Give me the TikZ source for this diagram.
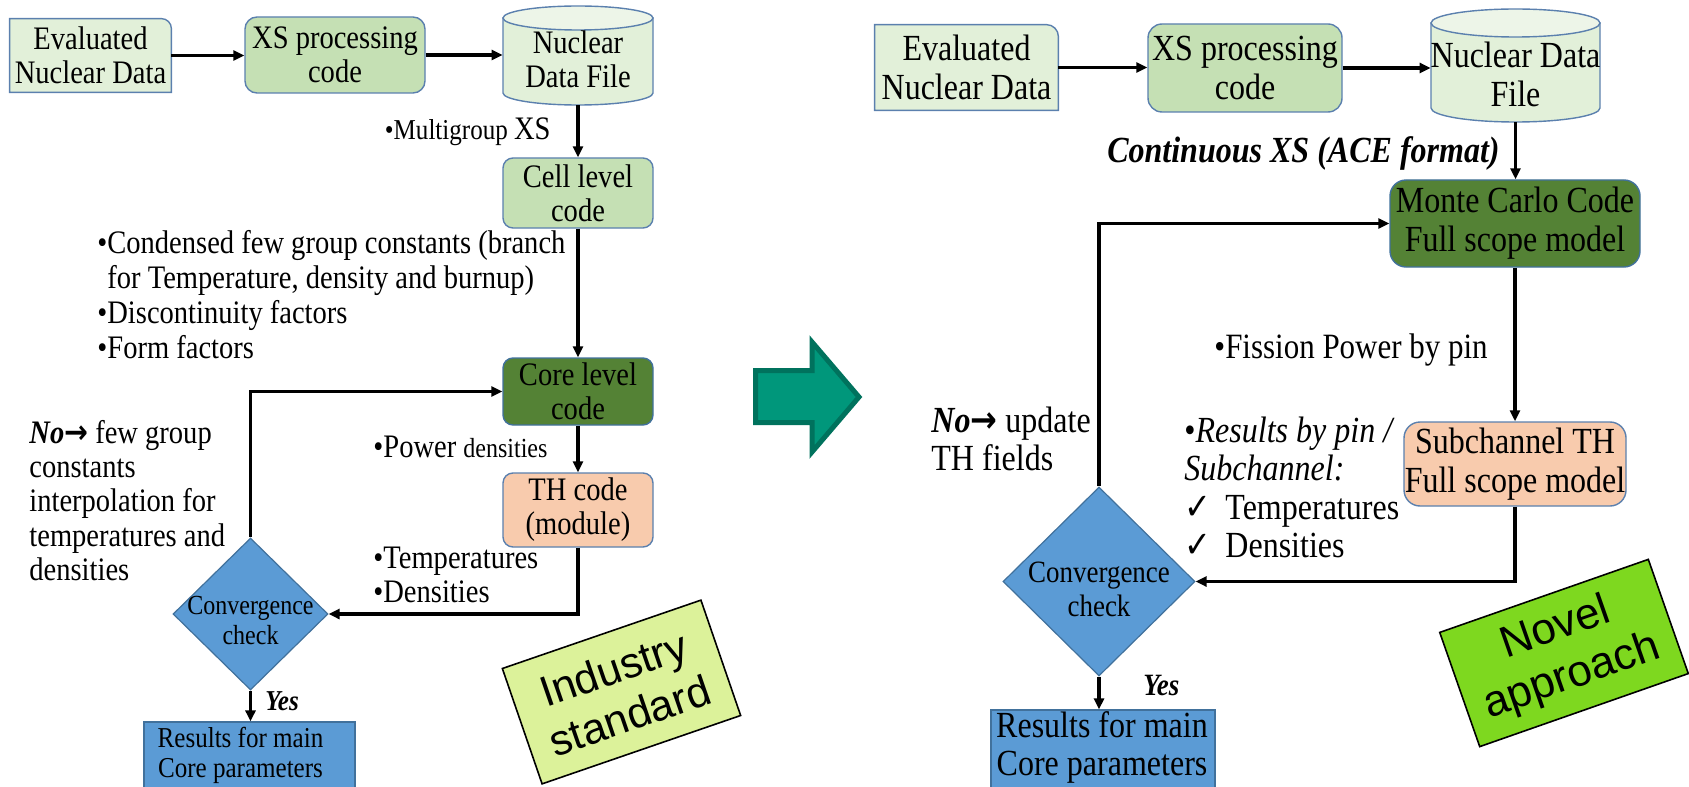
\documentclass[tikz,border=0pt]{standalone}
\usepackage{fontspec}
\setmainfont{Liberation Serif}[FakeStretch=0.87]
\setsansfont{Liberation Sans}
\newfontfamily\symbolfont{DejaVu Sans}[FakeStretch=0.87]
\usetikzlibrary{arrows.meta,shapes.geometric,backgrounds}

\definecolor{boxedge}{HTML}{5B80AE}
\definecolor{shapeedge}{HTML}{41719C}
\definecolor{palegreen}{HTML}{E2F0D9}
\definecolor{paletop}{HTML}{EDF5E8}
\definecolor{midgreen}{HTML}{C5E0B4}
\definecolor{deepgreen}{HTML}{548235}
\definecolor{peach}{HTML}{F8CBAD}
\definecolor{checkblue}{HTML}{5B9BD5}
\definecolor{stdyellow}{HTML}{DCF29A}
\definecolor{novelgreen}{HTML}{7ED81F}
\definecolor{bigfill}{HTML}{00977B}
\definecolor{bigedge}{HTML}{00725D}

\newcommand{\noarrow}{\textbf{\textit{No}}{\symbolfont\bfseries →}}
\newcommand{\chk}{{\symbolfont ✓}}

\begin{document}
\begin{tikzpicture}[x=0.5pt, y=-0.5pt,
  flow/.style={line width=1.6pt, line join=miter, -{Triangle[length=5.5pt,width=5pt]}},
  txt/.style={inner sep=0pt},
  lf/.style={font=\fontsize{16.4}{17}\selectfont},
  rf/.style={font=\fontsize{18.4}{19.5}\selectfont},
  cbox/.style={draw=boxedge, line width=0.7pt, inner sep=0pt, align=center},
  decision/.style={diamond, draw=shapeedge, line width=0.6pt, fill=checkblue, inner sep=0pt},
  result/.style={rectangle, draw=shapeedge, line width=0.6pt, fill=checkblue, inner sep=0pt},
  tag/.style={draw=black, line width=0.8pt, inner sep=0pt, align=center},
]
\useasboundingbox (0,0) rectangle (1689,786);

% ================= conventional chain (left) =================
\node[txt, minimum width=80.5pt, minimum height=36.5pt, align=center, lf] (evalL) at (90.5,55.5) {Evaluated\\Nuclear Data};
\node[cbox, rounded corners=6pt, fill=midgreen, minimum width=90pt, minimum height=38pt, lf] (xsL) at (335,55) {XS processing\\code};
\node[txt, minimum width=75pt, minimum height=49.5pt] (cylL) at (578,55.5) {};
\node[txt, align=center, lf] (cylLt) at (578,59) {Nuclear\\Data File};
\node[cbox, rounded corners=5pt, fill=midgreen, minimum width=75pt, minimum height=35pt, lf] (cellL) at (578,193) {Cell level\\code};
\node[cbox, draw=shapeedge, rounded corners=5pt, fill=deepgreen, minimum width=75pt, minimum height=33.5pt, lf] (coreL) at (578,391.5) {Core level\\code};
\node[cbox, rounded corners=5pt, fill=peach, minimum width=75pt, minimum height=37pt, lf] (thL) at (578,510) {TH code\\(module)};
\node[decision, minimum width=77.5pt, minimum height=76pt] (dmL) at (250.5,614) {};
\node[txt, align=center, font=\fontsize{13.8}{15}\selectfont] (dmLt) at (250.5,620.5) {Convergence\\check};
\node[result, minimum width=105.5pt, minimum height=39pt] (resL) at (249.5,761) {};
\node[txt, anchor=base, font=\fontsize{14.4}{15}\selectfont] (resLt) at (240.5,747)
  {\begin{tabular}[t]{@{}c@{}}Results for main\\Core parameters\end{tabular}};

\begin{scope}[on background layer]
  \path[fill=palegreen, draw=boxedge, line width=0.7pt] (evalL.south west) -- (evalL.north west)
    -- ([xshift=-5pt]evalL.north east) arc[start angle=90, end angle=0, radius=5pt] -- (evalL.south east) -- cycle;
  \path[fill=palegreen, draw=boxedge, line width=0.7pt] (503,18) -- (503,93)
    arc[start angle=180, end angle=360, x radius=37.5pt, y radius=6pt] -- (653,18) -- cycle;
  \path[fill=paletop, draw=boxedge, line width=0.7pt] (578,18) ellipse[x radius=37.5pt, y radius=6pt];
\end{scope}

\draw[flow] (evalL.east) -- (evalL.east -| xsL.west);
\draw[flow] (xsL.east) -- (xsL.east -| cylL.west);
\draw[flow] (cylL.south) -- (cellL.north);
\draw[flow] (cellL.south) -- (coreL.north);
\draw[flow] (coreL.south) -- (thL.north);
\draw[flow] (thL.south) |- (dmL.east);
\draw[flow] (dmL.north) |- (coreL.west);
\draw[flow] (dmL.south) -- (dmL.south |- resL.north);

\node[txt, anchor=base east, lf] (mgL) at (551,140) {{\fontsize{14.4}{15}\selectfont •Multigroup }XS};
\node[txt, anchor=base west, font=\fontsize{16.4}{17.5}\selectfont] (condL) at (97,253)
  {\begin{tabular}[t]{@{}l@{}}•Condensed few group constants (branch\\\phantom{•}for Temperature, density and burnup)\\•Discontinuity factors\\•Form factors\end{tabular}};
\node[txt, anchor=base west, lf] (powL) at (373,457) {•Power {\fontsize{13.8}{14}\selectfont densities}};
\node[txt, anchor=base west, lf] (tdL) at (373,568)
  {\begin{tabular}[t]{@{}l@{}}•Temperatures\\•Densities\end{tabular}};
\node[txt, anchor=base west, font=\fontsize{16.4}{17.2}\selectfont] (noL) at (29,443)
  {\begin{tabular}[t]{@{}l@{}}\noarrow{} few group\\constants\\interpolation for\\temperatures and\\densities\end{tabular}};
\node[txt, anchor=base west, font=\fontsize{14.4}{15}\selectfont] (yesL) at (265,710) {\textbf{\textit{Yes}}};

\node[tag, fill=stdyellow, rotate=19, minimum width=105pt, minimum height=61pt,
  font=\sffamily\fontsize{21.5}{25}\selectfont] (stdL) at (621.5,692) {Industry\\standard};

% ================= transition arrow =================
\path[fill=bigfill, draw=bigedge, line width=2.5pt, line join=miter]
  (755.5,370.5) -- (812,370.5) -- (812,342) -- (859,397) -- (812,452) -- (812,422.5) -- (755.5,422.5) -- cycle;

% ================= coupled chain (right) =================
\node[txt, minimum width=91.5pt, minimum height=42.5pt, align=center, rf] (evalR) at (966.5,67.5) {Evaluated\\Nuclear Data};
\node[cbox, rounded corners=7pt, fill=midgreen, minimum width=97pt, minimum height=44pt, rf] (xsR) at (1245,68) {XS processing\\code};
\node[txt, minimum width=84.5pt, minimum height=56.5pt] (cylR) at (1515.5,65.5) {};
\node[txt, align=center, rf] (cylRt) at (1515.5,74) {Nuclear Data\\File};
\node[cbox, draw=shapeedge, rounded corners=8pt, fill=deepgreen, minimum width=125pt, minimum height=43.5pt, rf] (mcR) at (1515,223.5) {Monte Carlo Code\\Full scope model};
\node[cbox, rounded corners=8pt, fill=peach, minimum width=111pt, minimum height=42pt, rf] (subR) at (1515,464) {Subchannel TH\\Full scope model};
\node[decision, minimum width=96pt, minimum height=94.5pt] (dmR) at (1099,581.5) {};
\node[txt, align=center, font=\fontsize{15.5}{17}\selectfont] (dmRt) at (1099,589.5) {Convergence\\check};
\node[result, minimum width=112pt, minimum height=45pt] (resR) at (1103,755) {};
\node[txt, anchor=base, font=\fontsize{18.4}{19}\selectfont] (resRt) at (1102,737)
  {\begin{tabular}[t]{@{}c@{}}Results for main\\Core parameters\end{tabular}};

\begin{scope}[on background layer]
  \path[fill=palegreen, draw=boxedge, line width=0.7pt] (evalR.south west) -- (evalR.north west)
    -- ([xshift=-6pt]evalR.north east) arc[start angle=90, end angle=0, radius=6pt] -- (evalR.south east) -- cycle;
  \path[fill=palegreen, draw=boxedge, line width=0.7pt] (1431,23) -- (1431,108)
    arc[start angle=180, end angle=360, x radius=42.25pt, y radius=7pt] -- (1600,23) -- cycle;
  \path[fill=paletop, draw=boxedge, line width=0.7pt] (1515.5,23) ellipse[x radius=42.25pt, y radius=7pt];
\end{scope}

\draw[flow] (evalR.east) -- (evalR.east -| xsR.west);
\draw[flow] (xsR.east) -- (xsR.east -| cylR.west);
\draw[flow] (cylR.south) -- (cylR.south |- mcR.north);
\draw[flow] (mcR.south) -- (mcR.south |- subR.north);
\draw[flow] (subR.south) |- (dmR.east);
\draw[flow] (dmR.north) |- (mcR.west);
\draw[flow] (dmR.south) -- (dmR.south |- resR.north);

\node[txt, anchor=base east, rf] (aceR) at (1500,163) {\textbf{\textit{Continuous XS (ACE format)}}};
\node[txt, anchor=base west, font=\fontsize{17.8}{19}\selectfont] (fisR) at (1214,358) {•Fission Power by pin};
\node[txt, anchor=base west, font=\fontsize{18.4}{19}\selectfont] (noR) at (931,432)
  {\begin{tabular}[t]{@{}l@{}}\noarrow{} update\\TH fields\end{tabular}};
\node[txt, anchor=base west, font=\fontsize{18.4}{19.3}\selectfont] (pinR) at (1184,442)
  {\begin{tabular}[t]{@{}l@{}}•\textit{Results by pin /}\\\textit{Subchannel:}\\\makebox[20.5pt][l]{\chk}Temperatures\\\makebox[20.5pt][l]{\chk}Densities\end{tabular}};
\node[txt, anchor=base west, font=\fontsize{15.5}{16}\selectfont] (yesR) at (1143,695) {\textbf{\textit{Yes}}};

\node[tag, fill=novelgreen, rotate=19.3, minimum width=110.5pt, minimum height=60.5pt,
  font=\sffamily\fontsize{22}{25.5}\selectfont] (novR) at (1564,653) {Novel\\approach};
\end{tikzpicture}
\end{document}
